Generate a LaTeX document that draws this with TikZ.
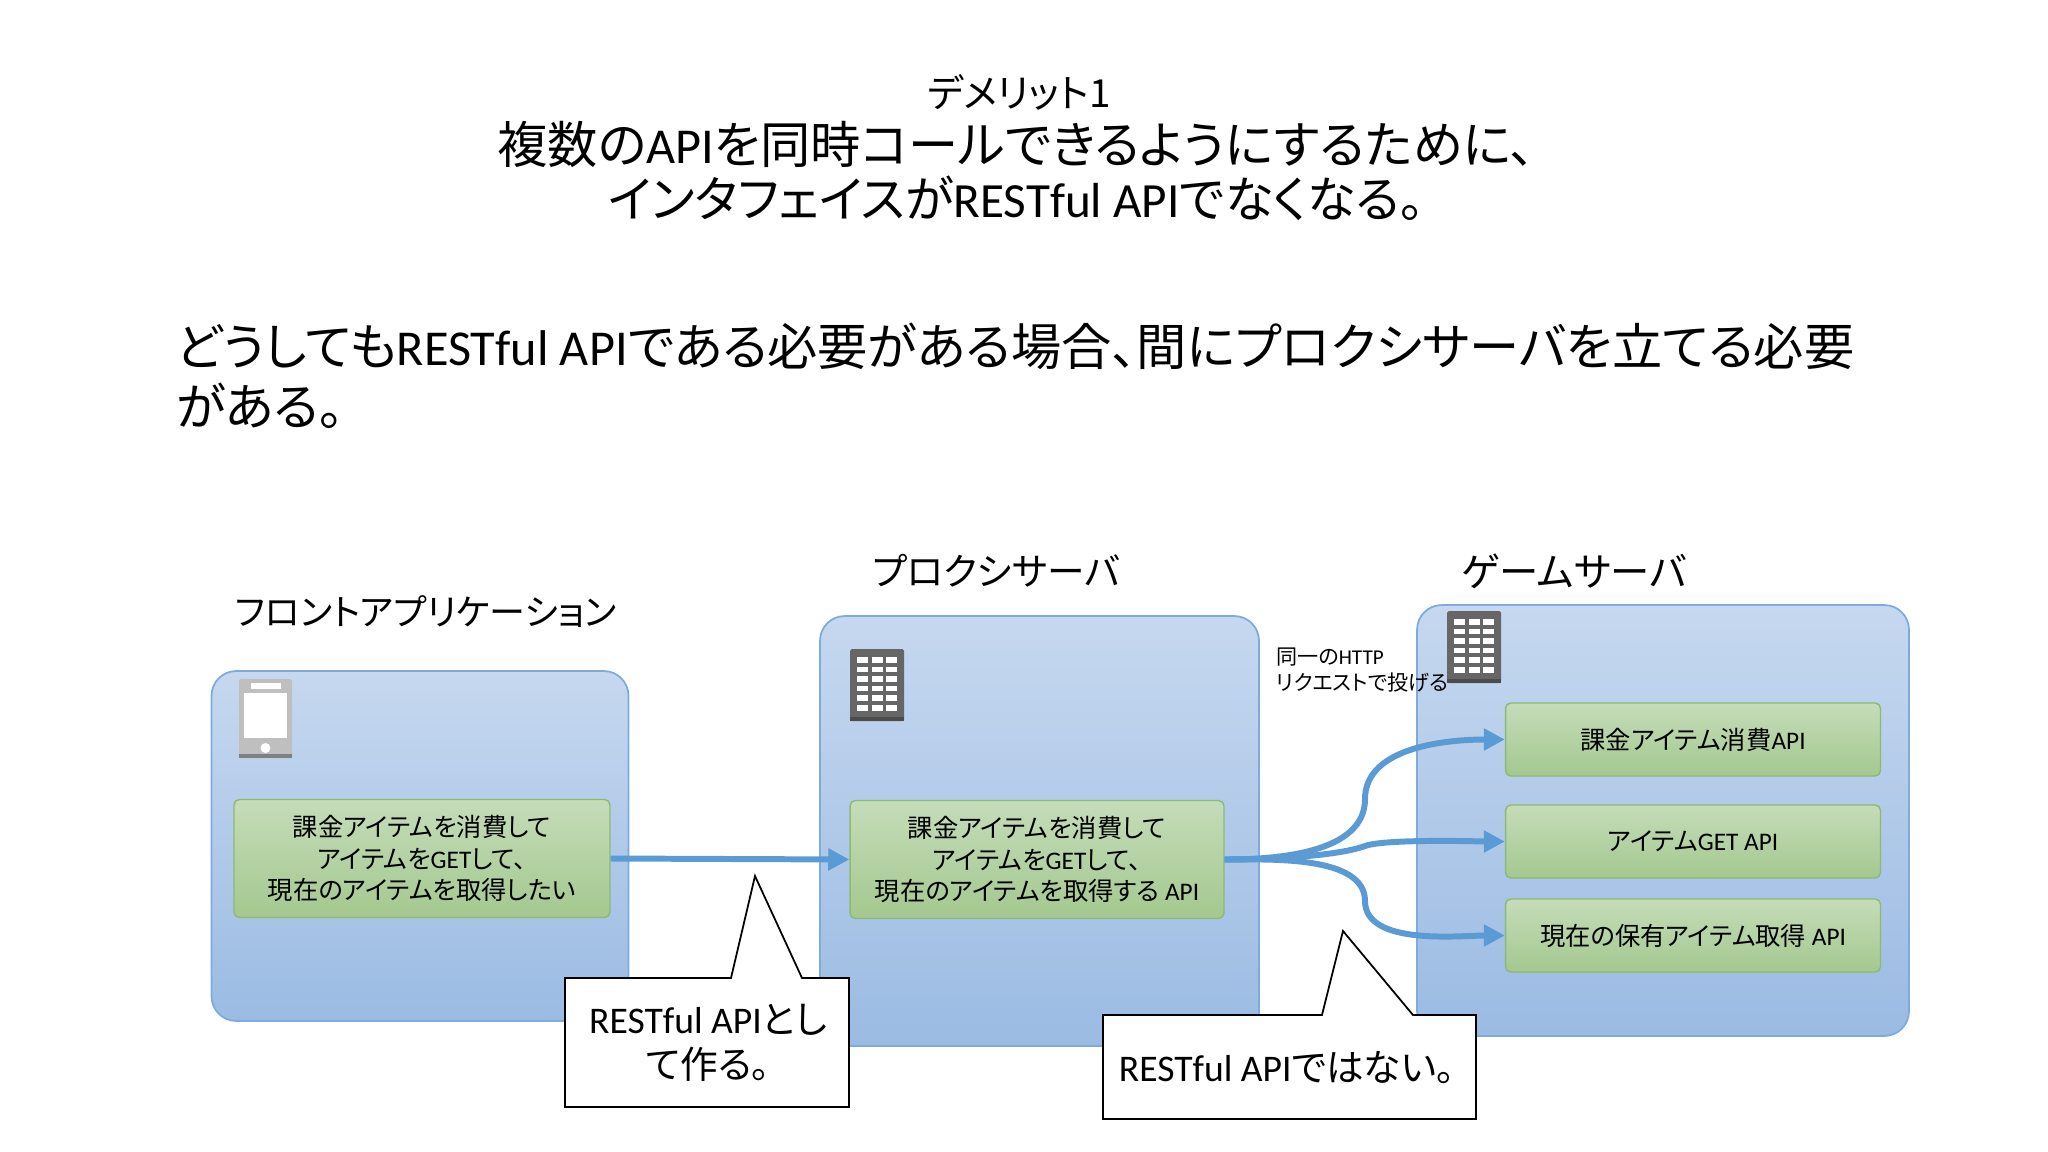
\documentclass[tikz,border=0pt]{standalone}
\usepackage{fontspec}
\usepackage{xcolor}
\setmainfont{Noto Sans CJK JP}[RawFeature={+palt}]
\newfontfamily\latnfont{Carlito}
\newcommand{\la}[1]{{\latnfont #1}}
\usetikzlibrary{positioning, arrows.meta}

\definecolor{boxtop}{HTML}{C6D8EF}
\definecolor{boxbottom}{HTML}{9BBBE3}
\definecolor{boxline}{HTML}{7FABDC}
\definecolor{apitop}{HTML}{C5DCB9}
\definecolor{apibottom}{HTML}{A4C88F}
\definecolor{apiline}{HTML}{8DBA72}
\definecolor{flowblue}{HTML}{5B9BD5}
\definecolor{srvdark}{HTML}{666666}
\definecolor{phonegray}{HTML}{BFBFBF}

\tikzset{
	tier/.style={draw=boxline, line width=1pt, rounded corners=14pt, top color=boxtop, bottom color=boxbottom},
	api/.style={draw=apiline, line width=0.8pt, rounded corners=3pt, top color=apitop, bottom color=apibottom, align=center, font=\fontsize{14.4}{17.8}\selectfont, inner sep=0pt},
	flow/.style={draw=flowblue, line width=3.4pt, -{Triangle[length=12pt, width=12pt]}},
	tiertitle/.style={inner sep=0pt},
	calltext/.style={align=center, font=\fontsize{21.4}{25.5}\selectfont, inner sep=0pt},
	callshape/.style={draw=black, fill=white, line width=1pt},
	server/.pic={
		\fill[srvdark, rounded corners=1pt] (0,0) rectangle (54,72);
		\fill[srvdark!75!black] (0,68) rectangle (54,72);
		\foreach \col in {0,1,2}
			\foreach \row in {0,...,5}
				\fill[white] (7+14.5*\col,8+9.6*\row) rectangle +(11,5.5);
	},
	phone/.pic={
		\fill[phonegray, rounded corners=1pt] (0,0) rectangle (53,79);
		\fill[gray] (0,75) rectangle (53,79);
		\fill[white] (5,14) rectangle (48,59);
		\fill[white] (12,4) rectangle (42,10);
		\fill[white] (26.5,69) circle (5);
	},
}

\begin{document}
\begin{tikzpicture}[x=0.02cm, y=-0.02cm]
	\useasboundingbox (0,0) rectangle (2048,1152);
	
	% Headings
	\node[font=\fontsize{22}{26}\selectfont, inner sep=0pt] (subtitle) at (1019,92) {デメリット1};
	\node[font=\fontsize{28.6}{31}\selectfont, align=center, inner sep=0pt] (title) at (1016,171) {複数の\la{API}を同時コールできるようにするために、\\\fontsize{28}{31}\selectfont インタフェイスが\la{RESTful API}でなくなる。};
	\node[font=\fontsize{28.6}{34}\selectfont, align=left, inner sep=0pt, anchor=west] (body) at (176,376) {どうしても\la{RESTful API}である必要がある場合、間にプロクシサーバを立てる必要\\がある。};
	
	% Tier titles
	\node[tiertitle, font=\fontsize{20.5}{24}\selectfont] (frontname) at (426,612) {フロントアプリケーション};
	\node[tiertitle, font=\fontsize{21.4}{24}\selectfont] (proxyname) at (996,571) {プロクシサーバ};
	\node[tiertitle, font=\fontsize{22.4}{24}\selectfont] (gamename) at (1574,571) {ゲームサーバ};
	
	% Tier boxes
	\node[tier, minimum width=8.34cm, minimum height=7cm] (front) at (420,846) {};
	\node[tier, minimum width=8.78cm, minimum height=8.6cm] (proxy) at (1039.5,831) {};
	\node[tier, minimum width=9.84cm, minimum height=8.62cm] (game) at (1663,820.5) {};
	
	% Icons
	\pic at (239,679) {phone};
	\pic at (850,649) {server};
	\pic at (1447,611) {server};
	
	% API boxes
	\node[api, minimum width=7.52cm, minimum height=2.36cm] (wish) at (422,858.5) {課金アイテムを消費して\\アイテムを\la{GET}して、\\現在のアイテムを取得したい};
	\node[api, minimum width=7.48cm, minimum height=2.36cm] (relay) at (1037,859.5) {課金アイテムを消費して\\アイテムを\la{GET}して、\\現在のアイテムを取得する \la{API}};
	\node[api, minimum width=7.5cm, minimum height=1.46cm] (consume) at (1693,739.5) {課金アイテム消費\la{API}};
	\node[api, minimum width=7.5cm, minimum height=1.46cm] (itemget) at (1693,841.5) {アイテム\la{GET API}};
	\node[api, minimum width=7.5cm, minimum height=1.46cm] (current) at (1693,935.5) {現在の保有アイテム取得 \la{API}};
	
	% Note beside the game server
	\node[font=\fontsize{12}{14.5}\selectfont, align=left, anchor=west, inner sep=0pt] (same) at (1276,670) {同一の\la{HTTP}\\リクエストで投げる};
	
	% Flows
	\coordinate (upbend) at (1365,799);
	\coordinate (midbend) at (1365,846);
	\coordinate (lowbend) at (1365,901);
	\draw[flow] (wish.east) -- (relay.west);
	\draw[flow] (relay.east) to[out=0, in=-90, looseness=0.9] (upbend) to[out=90, in=180, looseness=0.9] (consume.west);
	\draw[flow] (relay.east) to[out=0, in=200, looseness=0.6] (midbend) to[out=20, in=180, looseness=0.4] (itemget.west);
	\draw[flow] (relay.east) to[out=0, in=90, looseness=0.8] (lowbend) to[out=-90, in=180, looseness=0.8] (current.west);
	
	% Callouts
	\draw[callshape] (565,978) -- (731,978) -- (755,876) -- (802,978) -- (849,978) -- (849,1107) -- (565,1107) -- cycle;
	\node[calltext] (restnote) at (708,1043) {\la{RESTful API}とし\\て作る。};
	\draw[callshape] (1103,1015) -- (1322,1015) -- (1343,931) -- (1413,1015) -- (1476,1015) -- (1476,1119) -- (1103,1119) -- cycle;
	\node[calltext] (notrest) at (1287,1068) {\la{RESTful API}ではない。};
	
\end{tikzpicture}
\end{document}
